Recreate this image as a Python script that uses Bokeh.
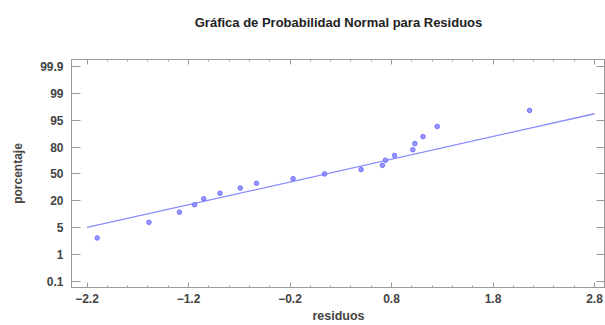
from statistics import NormalDist
import numpy as np
from bokeh.plotting import figure
from bokeh.models import FixedTicker, LinearAxis, Range1d, ColumnDataSource
from bokeh.embed import file_html
from bokeh.resources import INLINE

# ---- data ----
tick_pcts = [0.1, 1, 5, 20, 50, 80, 95, 99, 99.9]
tick_labels = ["0.1", "1", "5", "20", "50", "80", "95", "99", "99.9"]
x_ticks = [-2.2, -1.2, -0.2, 0.8, 1.8, 2.8]

residuos = [-2.10, -1.59, -1.29, -1.14, -1.05, -0.89, -0.69, -0.53, -0.17, 0.14,
            0.50, 0.71, 0.74, 0.83, 1.01, 1.03, 1.11, 1.25, 2.16]
porcentaje = [2.8, 6.8, 11.8, 16.8, 21.7, 27.2, 32.8, 38.4, 44.0, 50.0,
              55.4, 60.6, 66.6, 71.9, 77.6, 82.8, 87.6, 92.8, 97.1]

fit_x = [-2.2, 2.8]
fit_pct = [5.0, 96.5]

TITLE = "Gráfica de Probabilidad Normal para Residuos"

# ---- normal-probability axis: percentages placed between equally spaced ticks ----
nd = NormalDist()
tick_z = [nd.inv_cdf(p / 100.0) for p in tick_pcts]
tick_pos = list(range(len(tick_pcts)))


def to_pos(pcts):
    return np.interp([nd.inv_cdf(p / 100.0) for p in pcts], tick_z, tick_pos)


FONT = "Liberation Sans"
GRAY = "#9a9a9a"
minor_x = [round(v, 2) for v in np.arange(-2.2, 2.81, 0.2)]

p = figure(width=605, height=325, output_backend="svg", toolbar_location=None,
           x_range=Range1d(-2.353, 2.908), y_range=Range1d(-0.24, 8.27),
           min_border_left=71, min_border_right=0, min_border_top=59, min_border_bottom=33)

p.grid.visible = False
p.outline_line_color = GRAY
p.outline_line_width = 1
p.background_fill_color = "white"
p.border_fill_color = "white"

# bottom axis
xa = p.xaxis[0]
xa.ticker = FixedTicker(ticks=x_ticks, minor_ticks=minor_x)
xa.axis_label = "residuos"
xa.axis_label_text_font = FONT
xa.axis_label_text_font_size = "12.5px"
xa.axis_label_text_font_style = "bold"
xa.axis_label_standoff = 3
xa.major_label_text_font = FONT
xa.major_label_text_font_size = "12px"
xa.major_label_text_font_style = "bold"
xa.major_label_standoff = 6
xa.major_tick_in = 5
xa.major_tick_out = 0
xa.minor_tick_in = 2
xa.minor_tick_out = 0
xa.axis_line_color = GRAY
xa.major_tick_line_color = GRAY
xa.minor_tick_line_color = GRAY

# left axis
ya = p.yaxis[0]
ya.ticker = FixedTicker(ticks=tick_pos, minor_ticks=[])
ya.major_label_overrides = {i: lab for i, lab in zip(tick_pos, tick_labels)}
ya.axis_label = "porcentaje"
ya.axis_label_text_font = FONT
ya.axis_label_text_font_size = "12px"
ya.axis_label_text_font_style = "bold"
ya.axis_label_standoff = 12
ya.major_label_text_font = FONT
ya.major_label_text_font_size = "12px"
ya.major_label_text_font_style = "bold"
ya.major_label_standoff = 8
ya.major_tick_in = 9
ya.major_tick_out = 0
ya.minor_tick_line_color = None
ya.axis_line_color = GRAY
ya.major_tick_line_color = GRAY

# top axis (ticks only) – its label carries the chart title
top = LinearAxis(ticker=FixedTicker(ticks=x_ticks, minor_ticks=minor_x),
                 major_label_overrides={t: "" for t in x_ticks}, major_label_standoff=0,
                 major_tick_in=5, major_tick_out=0, minor_tick_in=2, minor_tick_out=0,
                 axis_line_color=GRAY, major_tick_line_color=GRAY, minor_tick_line_color=GRAY,
                 axis_label=TITLE, axis_label_text_font=FONT, axis_label_text_font_size="13px",
                 axis_label_text_font_style="bold", axis_label_text_color="#222222",
                 axis_label_standoff=30)
p.add_layout(top, "above")

# right axis (ticks only)
right = LinearAxis(ticker=FixedTicker(ticks=tick_pos, minor_ticks=[]),
                   major_label_overrides={t: "" for t in tick_pos}, major_label_standoff=0,
                   major_tick_in=9, major_tick_out=0, minor_tick_line_color=None,
                   axis_line_color=GRAY, major_tick_line_color=GRAY)
p.add_layout(right, "right")

# fitted line
p.line(fit_x, list(to_pos(fit_pct)), line_color="#8a8aff", line_width=1.3)

# points
src = ColumnDataSource(dict(x=residuos, y=list(to_pos(porcentaje))))
p.scatter("x", "y", source=src, size=4.5, fill_color="#8c8cff", line_color="#7070ff",
          line_width=1, fill_alpha=0.9)

open("out.html", "w").write(file_html(p, INLINE))
